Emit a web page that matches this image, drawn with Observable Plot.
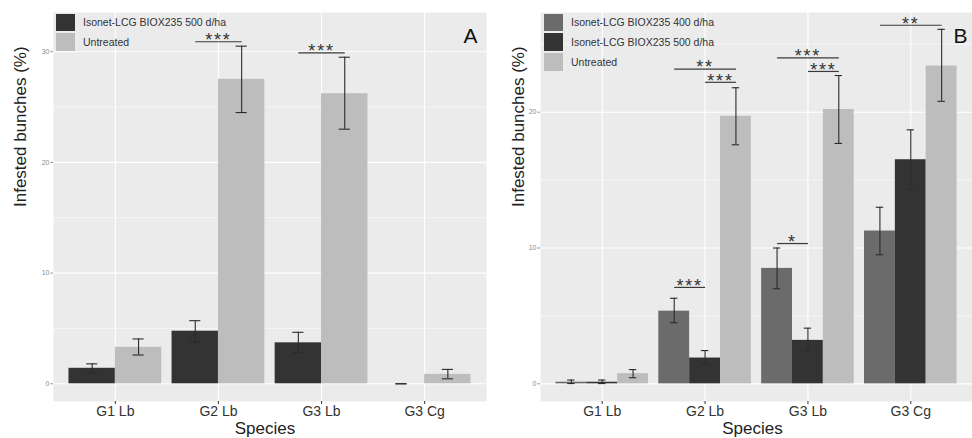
<!DOCTYPE html>
<html><head><meta charset="utf-8">
<script src="https://cdn.jsdelivr.net/npm/d3@7"></script>
<script src="https://cdn.jsdelivr.net/npm/@observablehq/plot@0.6"></script>
<style>
body{margin:0;background:#fff;font-family:"Liberation Sans",Arial,sans-serif;}
#wrap{position:relative;width:972px;height:438px;overflow:hidden;background:#fff;}
.layer{position:absolute;top:0;height:438px;}
.layer svg{position:absolute;left:0;top:0;font-family:"Liberation Sans",Arial,sans-serif;}
.sigs text{letter-spacing:1.8px;}
.legend{position:absolute;font-size:10.5px;color:#333;font-family:"Liberation Sans",Arial,sans-serif;}
.legend .row{display:flex;align-items:center;height:19.7px;}
.legend .key{width:19px;height:17.6px;margin-right:8px;flex:none;}
</style></head><body><div id="wrap"></div>
<script>
// ---- categories & series ----
const species = ["G1 Lb", "G2 Lb", "G3 Lb", "G3 Cg"];
const treatmentsA = ["Isonet-LCG BIOX235 500 d/ha", "Untreated"];
const treatmentsB = ["Isonet-LCG BIOX235 400 d/ha", "Isonet-LCG BIOX235 500 d/ha", "Untreated"];

// Panel A
const a500 = [1.4, 4.75, 3.7, 0];
const a500Lo = [1.0, 3.8, 2.8, 0];
const a500Hi = [1.8, 5.7, 4.65, 0];
const aUnt = [3.3, 27.5, 26.2, 0.85];
const aUntLo = [2.6, 24.5, 23.0, 0.45];
const aUntHi = [4.05, 30.5, 29.5, 1.3];

// Panel B
const b400 = [0.12, 5.35, 8.5, 11.25];
const b400Lo = [0.02, 4.5, 7.0, 9.5];
const b400Hi = [0.28, 6.3, 10.0, 13.0];
const b500 = [0.12, 1.9, 3.2, 16.5];
const b500Lo = [0.02, 1.45, 2.4, 14.3];
const b500Hi = [0.28, 2.45, 4.1, 18.7];
const bUnt = [0.75, 19.7, 20.2, 23.4];
const bUntLo = [0.45, 17.6, 17.7, 20.8];
const bUntHi = [1.05, 21.8, 22.7, 26.1];

// Significance annotations
const sigASpecies = ["G2 Lb", "G3 Lb"];
const sigAFrom = [0, 0];
const sigATo = [1, 1];
const sigAY = [30.9, 29.9];
const sigALabel = ["***", "***"];

const sigBSpecies = ["G2 Lb", "G2 Lb", "G2 Lb", "G3 Lb", "G3 Lb", "G3 Lb", "G3 Cg"];
const sigBFrom = [0, 1, 0, 0, 1, 0, 0];
const sigBTo = [2, 2, 1, 2, 2, 1, 2];
const sigBY = [23.17, 22.2, 7.1, 24.0, 23.0, 10.33, 26.4];
const sigBLabel = ["**", "***", "***", "***", "***", "*", "**"];

// Axis ticks
const yMajorA = [0, 10, 20, 30];
const yMinorA = [5, 15, 25];
const yMajorB = [0, 10, 20];
const yMinorB = [5, 15, 25];

const colorsA = ["#333333", "#bdbdbd"];
const colorsB = ["#6b6b6b", "#333333", "#bdbdbd"];

function buildRows(treatments, series) {
  const rows = [];
  species.forEach((s, i) => {
    treatments.forEach((t, j) => {
      const [v, lo, hi] = series[j];
      rows.push({species: s, treatment: t, value: v[i], lo: lo[i], hi: hi[i]});
    });
  });
  return rows;
}
function buildSigs(treatments, sp, from, to, y, label) {
  return sp.map((s, i) => {
    const m = (from[i] + to[i]) / 2;
    return {species: s, from: treatments[from[i]], to: treatments[to[i]], y: y[i], label: label[i],
            mid: treatments[Math.floor(m)], half: m !== Math.floor(m)};
  });
}

const H = 438, MT = 12, MB = 37;
const wrap = document.getElementById("wrap");

function makePanel(cfg) {
  const {left, width, mL, mR, yDomain, major, minor, treatments, colors, rows, sigs, letter, letterDx, titleDx, speciesDx} = cfg;
  const step = (width - mL - mR) / (species.length - 0.1 + 0.3);
  const bw = step * 0.9 / treatments.length;
  const cap = bw * 0.38;

  const layer = document.createElement("div");
  layer.className = "layer";
  layer.style.left = left + "px";
  layer.style.width = width + "px";

  const common = {width, height: H, marginLeft: mL, marginRight: mR, marginTop: MT, marginBottom: MB};

  const bottom = Plot.plot({
    ...common,
    style: "background: transparent;",
    x: {type: "band", domain: species, paddingInner: 0.1, paddingOuter: 0.15, round: false, axis: null},
    y: {domain: yDomain, axis: null},
    marks: [
      Plot.frame({fill: "#ebebeb", stroke: "none"}),
      Plot.ruleY(minor, {y: d => d, stroke: "#ffffff", strokeWidth: 0.55}),
      Plot.ruleY(major, {y: d => d, stroke: "#ffffff", strokeWidth: 1.1}),
      Plot.ruleX(species, {x: d => d, stroke: "#ffffff", strokeWidth: 1.1}),
      Plot.axisY(major, {tickSize: 2.5, tickPadding: 1.5, fontSize: 7, color: "#8c8c8c", label: null}),
      Plot.axisX({tickSize: 3, tickPadding: 1.5, fontSize: 14, color: "#333333", label: null}),
      Plot.text(["Species"], {text: d => d, frameAnchor: "bottom", dy: 32.5, dx: speciesDx, fontSize: 17, fill: "#222"}),
      Plot.text(["Infested bunches (%)"], {text: d => d, frameAnchor: "left", rotate: -90, dx: titleDx, fontSize: 17, fill: "#222"}),
      Plot.text([letter], {text: d => d, frameAnchor: "top-right", textAnchor: "end", dx: letterDx, dy: 15.5, fontSize: 21, fill: "#111"})
    ]
  });

  const top = Plot.plot({
    ...common,
    style: "background: transparent;",
    fx: {domain: species, paddingInner: 0.1, paddingOuter: 0.15, round: false, axis: null, label: null},
    x: {domain: treatments, padding: 0, round: false, axis: null},
    y: {domain: yDomain, axis: null},
    color: {domain: treatments, range: colors},
    marks: [
      Plot.barY(rows, {fx: "species", x: "treatment", y: "value", fill: "treatment"}),
      Plot.ruleX(rows, {fx: "species", x: "treatment", y1: "lo", y2: "hi", stroke: "#2b2b2b", strokeWidth: 1.1}),
      Plot.tickY(rows, {fx: "species", x: "treatment", y: "lo", stroke: "#2b2b2b", strokeWidth: 1.1, insetLeft: cap, insetRight: cap}),
      Plot.tickY(rows, {fx: "species", x: "treatment", y: "hi", stroke: "#2b2b2b", strokeWidth: 1.1, insetLeft: cap, insetRight: cap}),
      Plot.link(sigs, {fx: "species", x1: "from", x2: "to", y1: "y", y2: "y", stroke: "#3a3a3a", strokeWidth: 1.2}),
      Plot.text(sigs.filter(d => !d.half), {fx: "species", x: "mid", y: "y", text: "label", dy: -1.5, fontSize: 18, fill: "#333"}),
      Plot.text(sigs.filter(d => d.half), {fx: "species", x: "mid", y: "y", text: "label", dx: bw / 2, dy: -1.5, fontSize: 18, fill: "#333"})
    ]
  });
  top.classList.add("sigs");

  layer.appendChild(bottom);
  layer.appendChild(top);
  wrap.appendChild(layer);

  // legend
  const lg = document.createElement("div");
  lg.className = "legend";
  lg.style.left = (left + cfg.legendX) + "px";
  lg.style.top = "12.5px";
  treatments.forEach((t, i) => {
    const row = document.createElement("div");
    row.className = "row";
    const key = document.createElement("div");
    key.className = "key";
    key.style.background = colors[i];
    const lab = document.createElement("span");
    lab.textContent = t;
    row.appendChild(key);
    row.appendChild(lab);
    lg.appendChild(row);
  });
  wrap.appendChild(lg);
}

makePanel({
  left: 0, width: 490, mL: 53, mR: 4, yDomain: [-1.6, 33.54], major: yMajorA, minor: yMinorA,
  treatments: treatmentsA, colors: colorsA,
  rows: buildRows(treatmentsA, [[a500, a500Lo, a500Hi], [aUnt, aUntLo, aUntHi]]),
  sigs: buildSigs(treatmentsA, sigASpecies, sigAFrom, sigATo, sigAY, sigALabel),
  letter: "A", letterDx: -9, titleDx: -33, speciesDx: -5, legendX: 56
});
makePanel({
  left: 486, width: 486, mL: 54, mR: 0, yDomain: [-1.3, 27.34], major: yMajorB, minor: yMinorB,
  treatments: treatmentsB, colors: colorsB,
  rows: buildRows(treatmentsB, [[b400, b400Lo, b400Hi], [b500, b500Lo, b500Hi], [bUnt, bUntLo, bUntHi]]),
  sigs: buildSigs(treatmentsB, sigBSpecies, sigBFrom, sigBTo, sigBY, sigBLabel),
  letter: "B", letterDx: -5, titleDx: -22, speciesDx: -4, legendX: 58
});
</script></body></html>
